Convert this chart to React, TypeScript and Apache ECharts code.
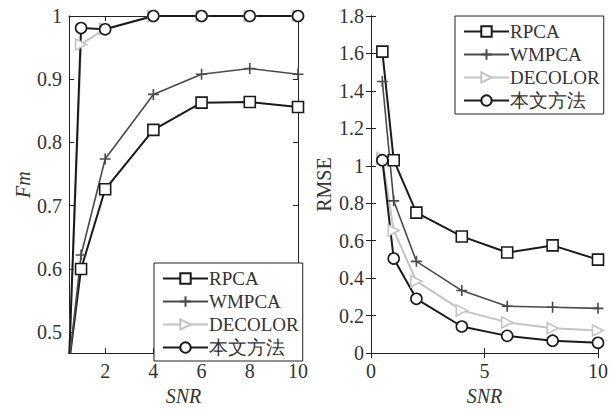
import React, { useEffect, useRef } from "react";
import * as echarts from "echarts";

const xValues = [0.5, 1, 2, 4, 6, 8, 10];
const seriesNames = ["RPCA", "WMPCA", "DECOLOR", "本文方法"];

const fmRPCA = [0.45, 0.6, 0.726, 0.82, 0.863, 0.864, 0.856];
const fmWMPCA = [0.45, 0.622, 0.774, 0.876, 0.908, 0.917, 0.908];
const fmDECOLOR = [0.45, 0.955, 0.98, 1.0, 1.0, 1.0, 1.0];
const fmOurs = [0.45, 0.981, 0.979, 1.0, 1.0, 1.0, 1.0];

const rmseRPCA = [1.61, 1.03, 0.75, 0.623, 0.537, 0.575, 0.499];
const rmseWMPCA = [1.45, 0.813, 0.49, 0.334, 0.25, 0.245, 0.239];
const rmseDECOLOR = [1.04, 0.655, 0.384, 0.228, 0.164, 0.133, 0.121];
const rmseOurs = [1.03, 0.505, 0.29, 0.142, 0.092, 0.066, 0.055];

const fmTicks = [0.5, 0.6, 0.7, 0.8, 0.9, 1];
const fmXTicks = [2, 4, 6, 8, 10];

const FONT = "Liberation Serif";
const TXT = "#333";
const AX = "#222";

const styles: Record<string, any> = {
  RPCA: { color: "#1a1a1a", symbol: "rect", size: 11, width: 2 },
  WMPCA: { color: "#4a4a4a", symbol: "path://M0,5L10,5M5,0L5,10", size: 11, width: 1.6 },
  DECOLOR: { color: "#c4c4c4", symbol: "path://M0,0L10,5L0,10Z", size: 11, width: 2 },
  本文方法: { color: "#1a1a1a", symbol: "circle", size: 11, width: 2 },
};

function makeSeries(name: string, vals: number[], idx: number) {
  const s = styles[name];
  return {
    type: "line",
    name,
    xAxisIndex: idx * 2,
    yAxisIndex: idx * 2,
    data: xValues.map((x, i) => [x, vals[i]]),
    symbol: s.symbol,
    symbolSize: s.size,
    showAllSymbol: true,
    clip: true,
    lineStyle: { color: s.color, width: s.width },
    itemStyle: { color: "#fff", borderColor: s.color, borderWidth: 1.6 },
    emphasis: { disabled: true },
  };
}

export default function App() {
  const ref = useRef<HTMLDivElement>(null);
  useEffect(() => {
    const chart = echarts.init(ref.current!, null, { renderer: "svg" });
    const axisLine = { show: true, lineStyle: { color: AX, width: 1 } };
    const tick = { show: true, inside: true, length: 5, lineStyle: { color: AX } };
    const label = { fontFamily: FONT, fontSize: 20, color: TXT };
    const nameStyle = { fontFamily: FONT, fontSize: 20, color: TXT };
    const legendText = {
      fontFamily: FONT, fontSize: 19, color: TXT, padding: [0, 0, 0, -4],
    };

    const option: any = {
      animation: false,
      backgroundColor: "#fff",
      textStyle: { fontFamily: FONT },
      grid: [
        { left: 69, top: 16, width: 229, height: 349 },
        { left: 371, top: 16, width: 227, height: 348 },
      ],
      xAxis: [
        {
          type: "value", gridIndex: 0, min: 0.5, max: 10, position: "bottom",
          axisLine, axisTick: { ...tick, customValues: fmXTicks },
          axisLabel: { ...label, margin: 8, customValues: fmXTicks },
          splitLine: { show: false },
          name: "SNR", nameLocation: "middle", nameGap: 32,
          nameTextStyle: { ...nameStyle, fontStyle: "italic" },
        },
        {
          type: "value", gridIndex: 0, min: 0.5, max: 10, position: "top",
          axisLine, axisTick: { ...tick, customValues: fmXTicks },
          axisLabel: { show: false, customValues: fmXTicks }, splitLine: { show: false },
        },
        {
          type: "value", gridIndex: 1, min: 0, max: 10, interval: 5, position: "bottom",
          axisLine, axisTick: tick, axisLabel: { ...label, margin: 8 },
          splitLine: { show: false },
          name: "SNR", nameLocation: "middle", nameGap: 32,
          nameTextStyle: { ...nameStyle, fontStyle: "italic" },
        },
        {
          type: "value", gridIndex: 1, min: 0, max: 10, interval: 5, position: "top",
          axisLine, axisTick: tick, axisLabel: { show: false }, splitLine: { show: false },
        },
      ],
      yAxis: [
        {
          type: "value", gridIndex: 0, min: 0.467, max: 1, position: "left",
          axisLine, axisTick: { ...tick, customValues: fmTicks },
          axisLabel: { ...label, margin: 7, customValues: fmTicks },
          splitLine: { show: false },
          name: "Fm", nameLocation: "middle", nameGap: 34,
          nameTextStyle: { ...nameStyle, fontStyle: "italic" },
        },
        {
          type: "value", gridIndex: 0, min: 0.467, max: 1, position: "right",
          axisLine, axisTick: { ...tick, customValues: fmTicks },
          axisLabel: { show: false, customValues: fmTicks }, splitLine: { show: false },
        },
        {
          type: "value", gridIndex: 1, min: 0, max: 1.8, interval: 0.2, position: "left",
          axisLine, axisTick: tick, axisLabel: { ...label, margin: 7 },
          splitLine: { show: false },
          name: "RMSE", nameLocation: "middle", nameGap: 37,
          nameTextStyle: nameStyle,
        },
        {
          type: "value", gridIndex: 1, min: 0, max: 1.8, interval: 0.2, position: "right",
          axisLine, axisTick: tick, axisLabel: { show: false }, splitLine: { show: false },
        },
      ],
      legend: [
        {
          data: seriesNames, left: 154, top: 263, orient: "vertical",
          itemWidth: 45, itemHeight: 13, itemGap: 4, padding: [6, 4, 4, 8],
          borderColor: AX, borderWidth: 1, backgroundColor: "#fff",
          textStyle: legendText,
          selectedMode: false,
        },
        {
          data: seriesNames, left: 455, top: 16, orient: "vertical",
          itemWidth: 45, itemHeight: 13, itemGap: 4, padding: [6, 4, 4, 8],
          borderColor: AX, borderWidth: 1, backgroundColor: "#fff",
          textStyle: legendText,
          selectedMode: false,
        },
      ],
      series: [
        makeSeries("RPCA", fmRPCA, 0),
        makeSeries("WMPCA", fmWMPCA, 0),
        makeSeries("DECOLOR", fmDECOLOR, 0),
        makeSeries("本文方法", fmOurs, 0),
        makeSeries("RPCA", rmseRPCA, 1),
        makeSeries("WMPCA", rmseWMPCA, 1),
        makeSeries("DECOLOR", rmseDECOLOR, 1),
        makeSeries("本文方法", rmseOurs, 1),
      ],
    };
    chart.setOption(option);
    return () => chart.dispose();
  }, []);
  return (
    <div
      ref={ref}
      style={{ position: "fixed", left: 0, top: 0, width: 613, height: 411, background: "#fff" }}
    />
  );
}
